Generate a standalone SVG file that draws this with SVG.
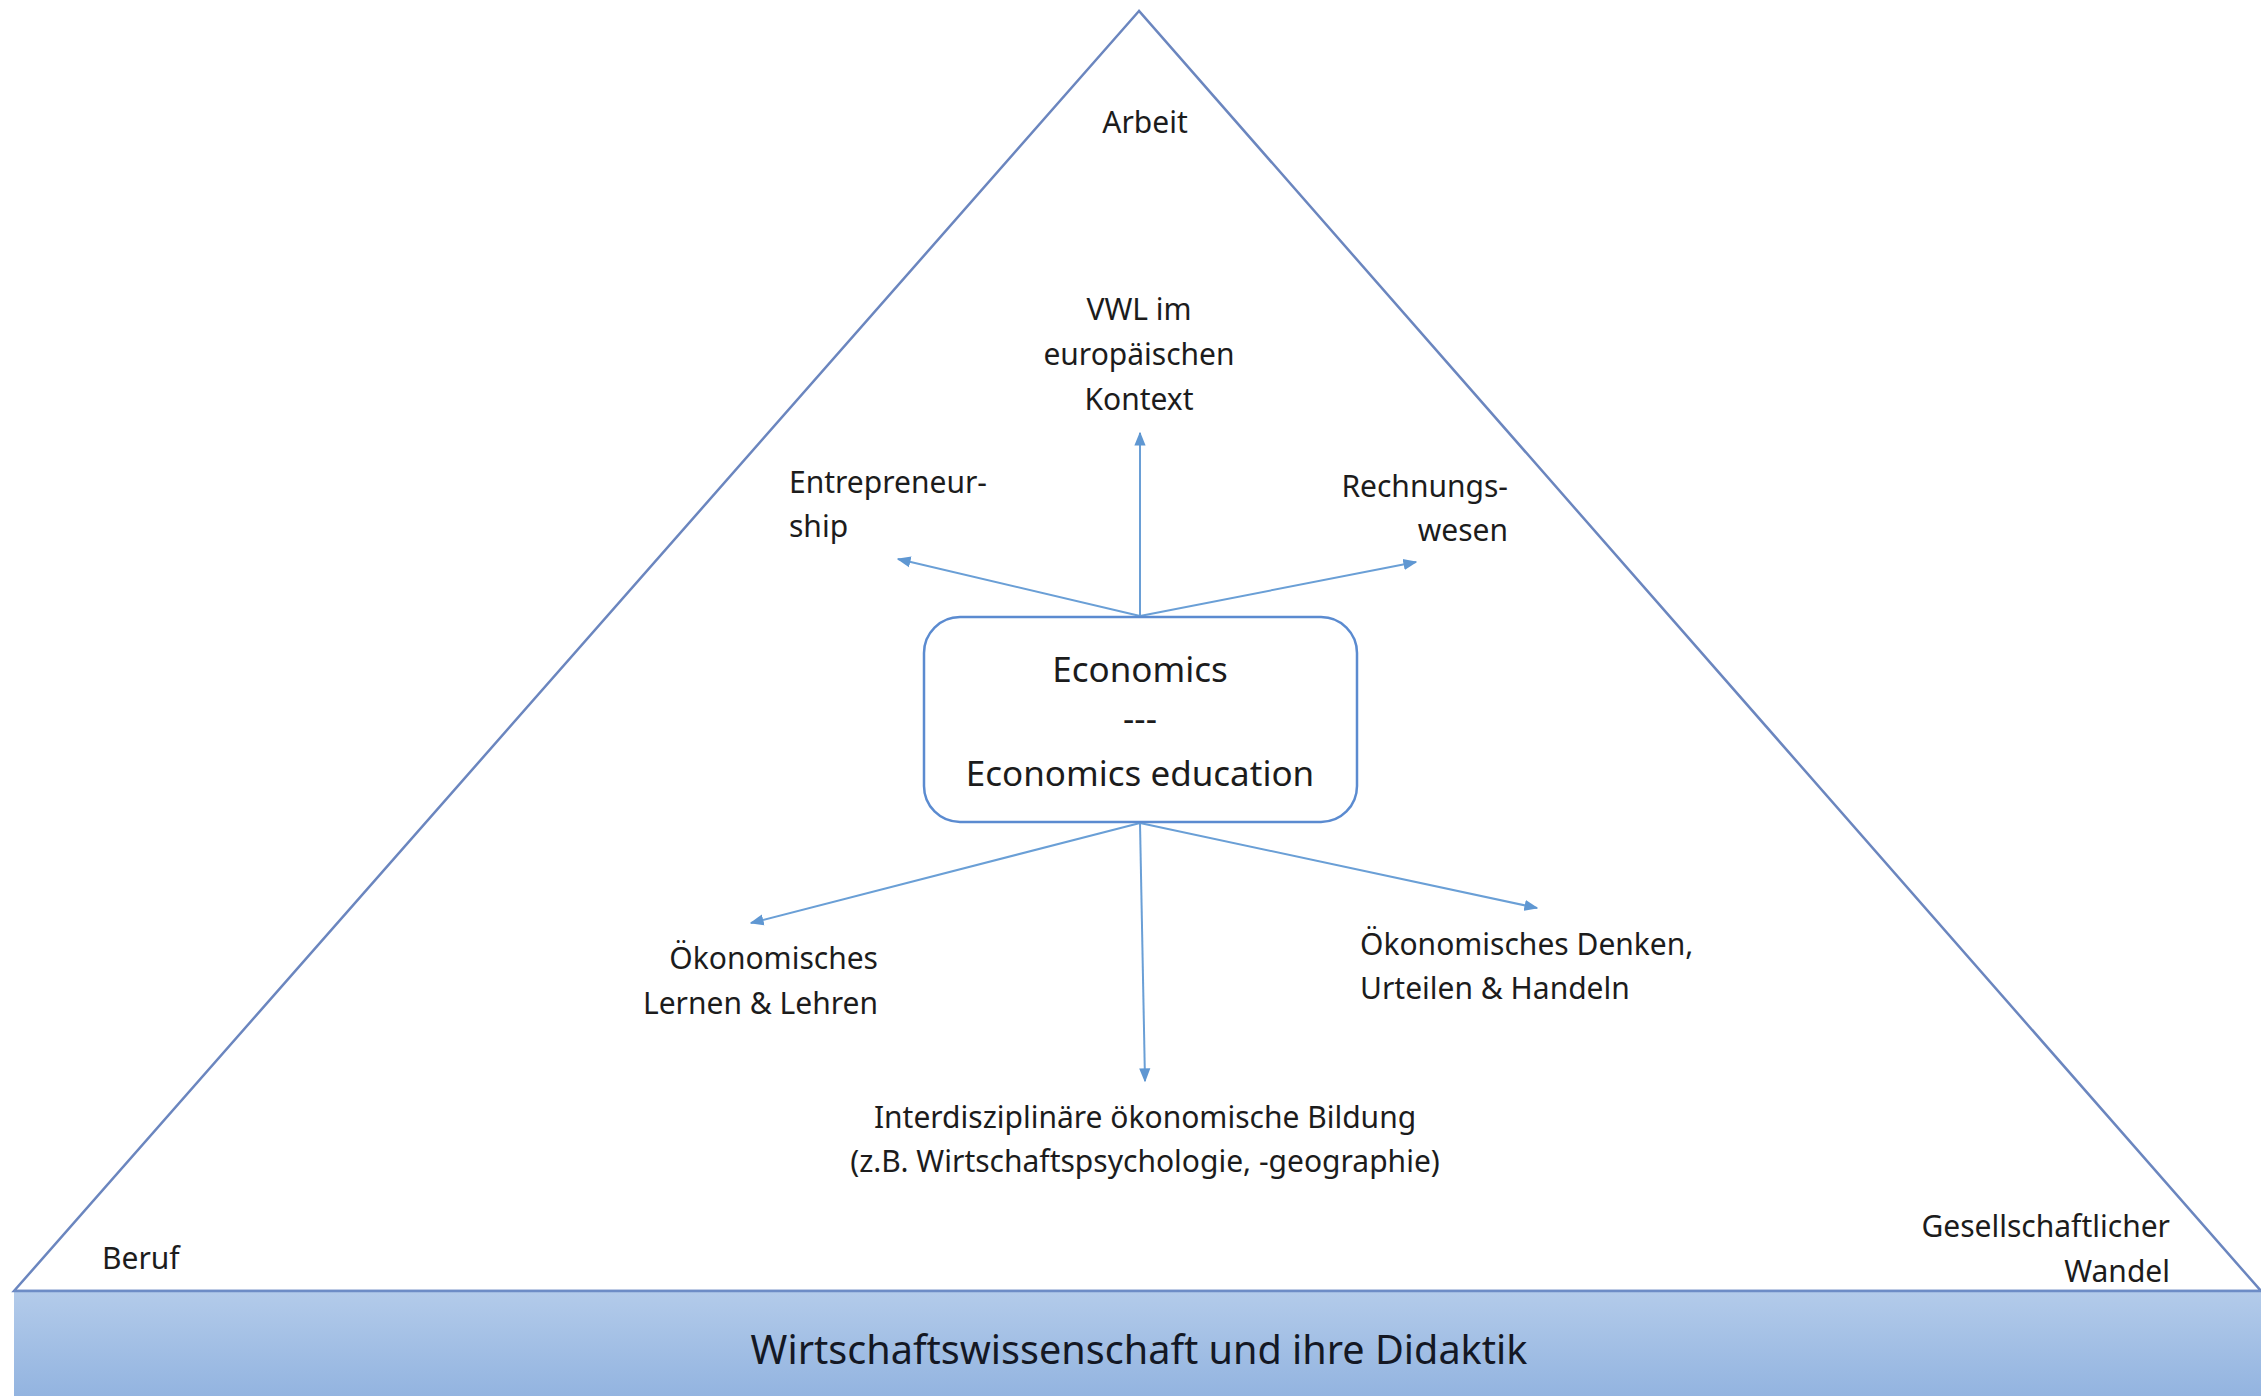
<svg xmlns="http://www.w3.org/2000/svg" width="2261" height="1396" viewBox="0 0 2261 1396">
<defs>
<linearGradient id="band" x1="0" y1="0" x2="0" y2="1">
<stop offset="0" stop-color="#b3cbea"/>
<stop offset="1" stop-color="#93b4e0"/>
</linearGradient>
<marker id="arr" viewBox="0 0 10 10" refX="9" refY="5" markerWidth="8" markerHeight="8" markerUnits="userSpaceOnUse" orient="auto">
<path d="M0,0 L10,5 L0,10 z" fill="#5f97d2"/>
</marker>
<marker id="arrow" viewBox="0 0 10 10" refX="9" refY="5" markerWidth="14" markerHeight="14" markerUnits="userSpaceOnUse" orient="auto">
<path d="M0,1 L10,5 L0,9 z" fill="#5f97d2"/>
</marker>
</defs>
<style>
text{font-family:"Noto Sans","Open Sans","Liberation Sans",sans-serif;font-size:30px;fill:#1c1c1c}
.c{text-anchor:middle}
.r{text-anchor:end}
.big{font-size:35px}
.conn line{stroke:#6a9fd6;stroke-width:2;marker-end:url(#arrow)}
</style>
<rect width="2261" height="1396" fill="#ffffff"/>
<g id="triangle">
<polygon points="1139,11 14,1291 2261,1291" fill="#ffffff" stroke="#6b86bf" stroke-width="2.5" stroke-linejoin="miter"/>
</g>
<g id="base">
<rect x="14" y="1291" width="2247" height="105" fill="url(#band)"/>
<line x1="14" y1="1291" x2="2261" y2="1291" stroke="#6d8cc6" stroke-width="2.5"/>
<text class="c" x="1139" y="1364" style="font-size:39.6px;fill:#141824">Wirtschaftswissenschaft und ihre Didaktik</text>
</g>
<g class="conn" id="connectors">
<line x1="1140" y1="616" x2="1140" y2="433"/>
<line x1="1140" y1="616" x2="898" y2="559"/>
<line x1="1140" y1="616" x2="1416" y2="562"/>
<line x1="1140" y1="823" x2="751" y2="923"/>
<line x1="1140" y1="823" x2="1145" y2="1081"/>
<line x1="1140" y1="823" x2="1537" y2="908"/>
</g>
<g id="center">
<rect x="924" y="617" width="433" height="205" rx="36" ry="36" fill="#ffffff" stroke="#5b8bd0" stroke-width="2.5"/>
<text class="c big" x="1140" y="682">Economics</text>
<text class="c big" x="1140" y="731">---</text>
<text class="c big" x="1140" y="786">Economics education</text>
</g>
<g id="arbeit"><text class="c" x="1145" y="133">Arbeit</text></g>
<g id="beruf"><text x="102" y="1269">Beruf</text></g>
<g id="wandel">
<text class="r" x="2170" y="1237">Gesellschaftlicher</text>
<text class="r" x="2170" y="1282">Wandel</text>
</g>
<g id="vwl">
<text class="c" x="1139" y="320">VWL im</text>
<text class="c" x="1139" y="365">europäischen</text>
<text class="c" x="1139" y="410">Kontext</text>
</g>
<g id="entrepreneurship">
<text x="789" y="493">Entrepreneur-</text>
<text x="789" y="537">ship</text>
</g>
<g id="rechnungswesen">
<text class="r" x="1508" y="497">Rechnungs-</text>
<text class="r" x="1508" y="541">wesen</text>
</g>
<g id="lernen">
<text class="r" x="878" y="969">Ökonomisches</text>
<text class="r" x="878" y="1014">Lernen &amp; Lehren</text>
</g>
<g id="denken">
<text x="1360" y="955">Ökonomisches Denken,</text>
<text x="1360" y="999">Urteilen &amp; Handeln</text>
</g>
<g id="interdisziplinaer">
<text class="c" x="1145" y="1128">Interdisziplinäre ökonomische Bildung</text>
<text class="c" x="1145" y="1172">(z.B. Wirtschaftspsychologie, -geographie)</text>
</g>
</svg>
